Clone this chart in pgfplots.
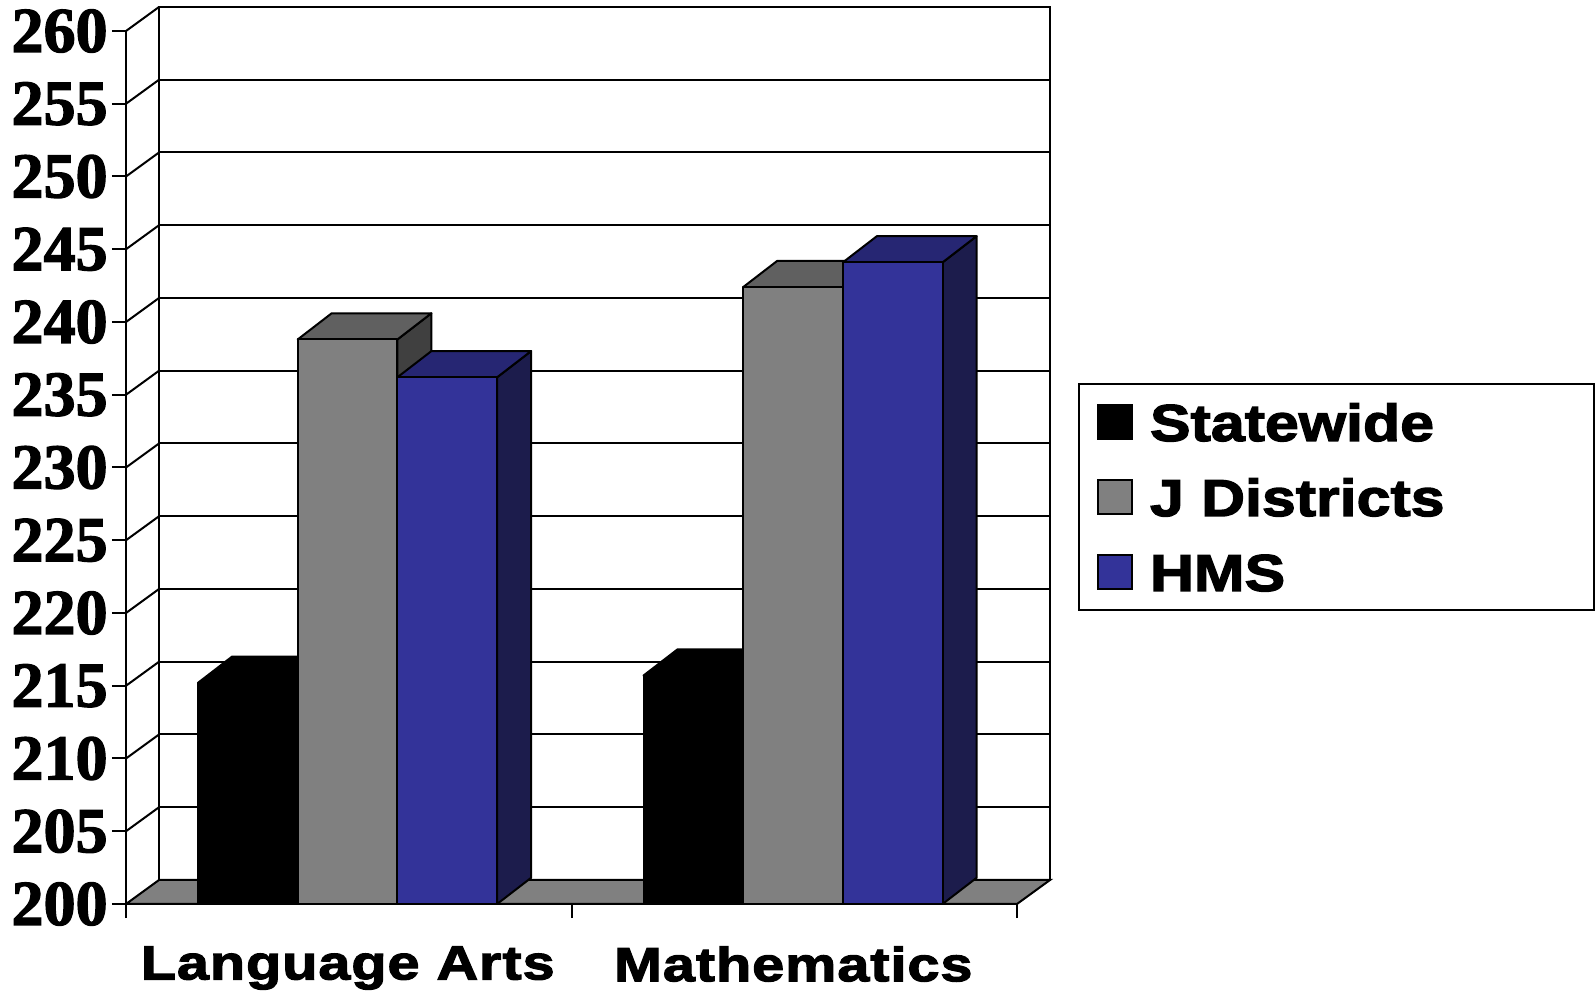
\documentclass[border=0pt]{standalone}
\usepackage{fontspec}
\usepackage{pgfplots}
\pgfplotsset{compat=1.18}

\newfontfamily\tickfont{Liberation Serif}[FakeBold=2]
\newfontfamily\catfont{Liberation Sans}[FakeStretch=1.2, LetterSpace=2, FakeBold=2.5]
\newfontfamily\legfont{Liberation Sans}[FakeStretch=1.17, FakeBold=2.5]

\definecolor{grayF}{HTML}{808080}
\definecolor{grayT}{HTML}{606060}
\definecolor{grayS}{HTML}{404040}
\definecolor{blueF}{HTML}{333399}
\definecolor{blueT}{HTML}{262673}
\definecolor{blueS}{HTML}{1C1C4C}

% one 3-D column: left x, value, front, top and side colour
\newcommand{\cube}[5]{%
  \pgfmathsetmacro\xa{#1+99.7}%
  \pgfmathsetmacro\xb{#1+34}%
  \pgfmathsetmacro\xc{#1+133.7}%
  \pgfmathsetmacro\yb{#2+1.8}%
  \edef\doit{%
    \noexpand\addplot[forget plot, draw=black, line width=1pt, line join=round, fill=#5]
      coordinates {(\xa,200) (\xc,201.8) (\xc,\yb) (\xa,#2)} -- cycle;
    \noexpand\addplot[forget plot, draw=black, line width=1pt, line join=round, fill=#4]
      coordinates {(#1,#2) (\xa,#2) (\xc,\yb) (\xb,\yb)} -- cycle;
    \noexpand\addplot[forget plot, draw=black, line width=1pt, line join=round, fill=#3]
      coordinates {(#1,200) (\xa,200) (\xa,#2) (#1,#2)} -- cycle;
  }\doit}

\begin{document}
\begin{tikzpicture}
\useasboundingbox (-63pt,-45.5pt) rectangle (734.5pt,452pt);

% back wall with its gridlines
\begin{axis}[
    at={(16.5pt,12pt)}, anchor=south west,
    scale only axis, width=445.5pt, height=436.5pt,
    xmin=126, xmax=1017, ymin=200, ymax=260,
    xtick=\empty, ytick={200,205,...,260}, yticklabels={},
    major tick length=0pt,
    ymajorgrids, grid style={black, line width=1pt},
    axis line style={line width=1pt},
]
\end{axis}

\begin{axis}[
    at={(0pt,0pt)}, anchor=south west,
    scale only axis, width=445.5pt, height=436.5pt,
    xmin=126, xmax=1017, ymin=200, ymax=260,
    clip=false,
    axis x line*=bottom, axis y line*=left,
    axis line style={line width=1pt, -},
    tick align=outside, major tick length=7pt,
    tick style={black, line width=1pt},
    ytick={200,205,...,260},
    xtick={126,571.5,1017}, xticklabels={},
    extra x ticks={347.75,793.25},
    extra x tick labels={Language Arts,Mathematics},
    extra x tick style={major tick length=0pt},
    /pgf/number format/assume math mode=true,
    yticklabel style={font=\tickfont\bfseries\fontsize{32}{32}\selectfont, inner sep=0pt, xshift=-2pt},
    xticklabel style={font=\catfont\bfseries\fontsize{24}{24}\selectfont, inner sep=0pt, anchor=north, yshift=-21pt},
    legend image code/.code={\draw[#1, draw=black, line width=1pt] (0pt,-8.5pt) rectangle (17pt,8.5pt);},
    legend style={at={(1.0685,0.5968)}, anchor=north west, draw=black, line width=1pt,
        inner xsep=9pt, inner ysep=9.5pt, row sep=18.5pt, column sep=8.5pt,
        font=\legfont\bfseries\fontsize{26}{26}\selectfont,
        nodes={inner sep=0pt, text height=19pt, text depth=0pt, text width=213pt, align=left}},
    legend cell align=left,
]
% floor
\addplot[forget plot, draw=black, line width=1pt, fill=grayF]
    coordinates {(126,200) (1017,200) (1050,201.65) (159,201.65)} -- cycle;
% side wall gridlines
\addplot[forget plot, draw=black, line width=1pt, quiver={u=33, v=1.65}]
    coordinates {(126,205) (126,210) (126,215) (126,220) (126,225) (126,230)
                 (126,235) (126,240) (126,245) (126,250) (126,255) (126,260)};

% Language Arts: Statewide, J Districts, HMS
\cube{198}{215.2}{black}{black}{black}
\cube{297.7}{238.8}{grayF}{grayT}{grayS}
\cube{397.4}{236.2}{blueF}{blueT}{blueS}
% Mathematics
\cube{643.5}{215.7}{black}{black}{black}
\cube{743.2}{242.4}{grayF}{grayT}{grayS}
\cube{842.9}{244.1}{blueF}{blueT}{blueS}

\addlegendimage{fill=black}
\addlegendentry{Statewide}
\addlegendimage{fill=grayF}
\addlegendentry{J Districts}
\addlegendimage{fill=blueF}
\addlegendentry{HMS}
\end{axis}
\end{tikzpicture}
\end{document}
